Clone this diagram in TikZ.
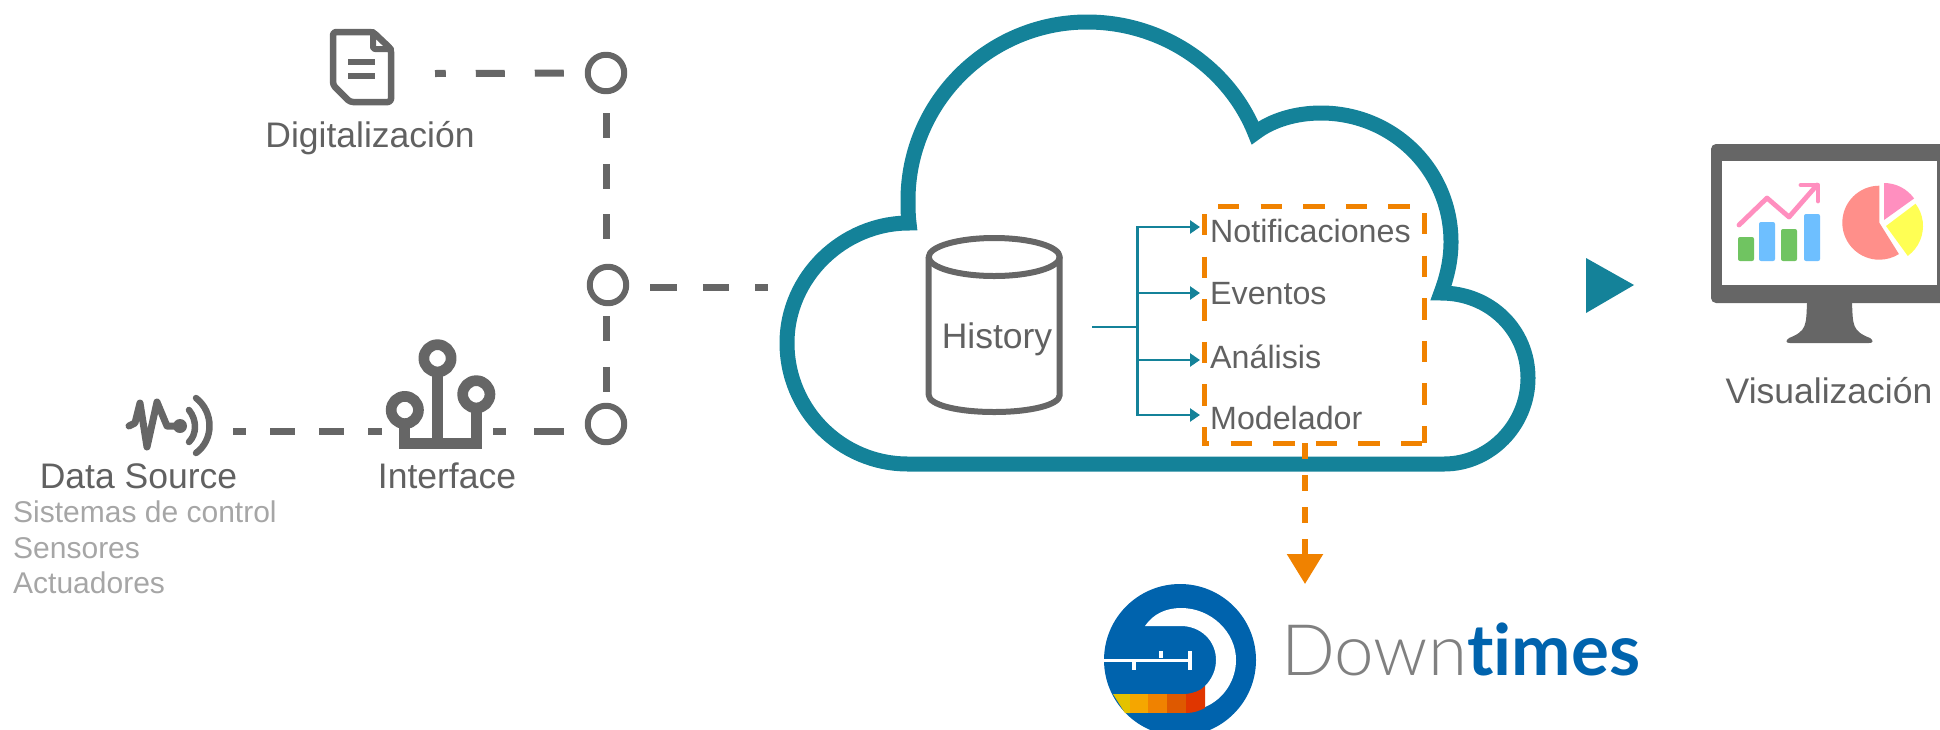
\documentclass[tikz,border=0pt]{standalone}
\usepackage{amsmath}
\usepackage{fontspec}
\setmainfont{Liberation Sans}
\newfontfamily\dtlight{Lato Light}
\newfontfamily\dtbold[Ligatures=NoCommon]{Lato Bold}
\usetikzlibrary{arrows.meta}
\definecolor{wqwqwq}{rgb}{0.4,0.4,0.4}
\definecolor{sqsqsq}{rgb}{0.38,0.38,0.38}
\definecolor{aqaqaq}{rgb}{0.65,0.65,0.65}
\definecolor{qqzzcc}{rgb}{0.08,0.51,0.6}
\definecolor{ffzzqq}{rgb}{0.94,0.51,0}
\definecolor{qqwwaa}{rgb}{0,0.39,0.68}
\definecolor{zzzzzz}{rgb}{0.5,0.5,0.5}
\definecolor{ggcckk}{rgb}{0.44,0.77,0.38}
\definecolor{kkccff}{rgb}{0.43,0.75,1}
\definecolor{ffkkcc}{rgb}{1,0.56,0.75}
\definecolor{ffkkkk}{rgb}{1,0.56,0.54}
\definecolor{ffffkk}{rgb}{1,1,0.33}
\definecolor{eeccqq}{rgb}{0.89,0.76,0}
\definecolor{ffaaqq}{rgb}{0.96,0.65,0}
\definecolor{ddggqq}{rgb}{0.87,0.35,0}
\definecolor{eeddqq}{rgb}{0.88,0.21,0}
\tikzset{
  lbl/.style={anchor=base,text=sqsqsq,inner sep=0pt,font=\fontsize{35.5}{35.5}\selectfont},
  sublbl/.style={anchor=base west,text=aqaqaq,inner sep=0pt,font=\fontsize{30}{30}\selectfont},
  modlbl/.style={anchor=base west,text=sqsqsq,inner sep=0pt,font=\fontsize{32.2}{32.2}\selectfont},
  junct/.style={circle,draw=wqwqwq,line width=6pt,minimum size=36.5pt,inner sep=0pt,outer sep=3pt},
  bus/.style={draw=wqwqwq,line width=7pt,line cap=butt},
  icon/.style={draw=wqwqwq,line width=6pt},
  chip/.style={draw=wqwqwq,line width=10.7pt,line cap=butt,line join=miter},
  ring/.style={draw=wqwqwq,line width=10.7pt,fill=white},
  branch/.style={draw=qqzzcc,line width=2.6pt,line cap=butt,line join=miter,-{Triangle[length=10pt,width=13pt]}},
  boxdash/.style={draw=ffzzqq,line width=5pt,line cap=butt,line join=miter,dash pattern=on 21.3pt off 21.3pt},
}
\begin{document}
\begin{tikzpicture}[line cap=round,line join=round,x=1pt,y=-1pt]
\path[use as bounding box,clip] (0,0) rectangle (1940,729);

\node[junct] (cirTop) at (606,73) {};
\node[junct] (cirMid) at (608,285) {};
\node[junct] (cirBot) at (606,424) {};
\coordinate (docOut) at (435,73.5);
\coordinate (cloudIn) at (768,287);
\coordinate (srcOut) at (233,431);
\coordinate (ifcIn) at (382,431);
\coordinate (ifcOut) at (493,431);
\draw[bus,dash pattern=on 29pt off 30pt,dash phase=38pt] (cirTop.west) -- (docOut);
\draw[bus,dash pattern=on 25pt off 25.5pt,dash phase=31.5pt] (cirTop.south) -- (cirMid.north -| cirTop.south);
\draw[bus,dash pattern=on 25pt off 25.5pt,dash phase=40.5pt] (cirMid.south -| cirBot.north) -- (cirBot.north);
\draw[bus,dash pattern=on 26.5pt off 26pt,dash phase=31.5pt] (cloudIn -| cirMid.east) -- (cloudIn);
\draw[bus,dash pattern=on 25pt off 24pt,dash phase=12pt] (srcOut) -- (ifcIn);
\draw[bus,dash pattern=on 30pt off 28pt,dash phase=17pt] (ifcOut) -- (ifcOut -| cirBot.west);

\draw[icon,line width=6.5pt,rounded corners=3pt] (333,32) -- (373,32) -- (391,49) -- (391,102) -- (350,102) -- (333,85) -- cycle;
\draw[icon,rounded corners=2pt] (373,32) -- (373,49) -- (391,49);
\draw[icon,line cap=butt] (348,62) -- (375,62);
\draw[icon,line cap=butt] (348,76) -- (375,76);
\node[lbl] (lblDigital) at (370,147) {Digitalización};

\draw[icon,line width=7pt] (129,426) -- (135,423) -- (140,403) -- (147,447) -- (157,402) -- (167,426) -- (180,426);
\fill[wqwqwq] (180,426) circle (7pt);
\draw[icon,line width=6.5pt] (189,410) .. controls (197,420) and (197,434) .. (189,442);
\draw[icon,line width=6.5pt] (196,398) .. controls (214,412) and (214,440) .. (196,453);
\node[lbl] (lblSource) at (138.5,488) {Data Source};
\node[sublbl] (lblCtrl) at (13,522) {Sistemas de control};
\node[sublbl] (lblSens) at (13,558) {Sensores};
\node[sublbl] (lblActu) at (13,593) {Actuadores};

\draw[chip] (404.6,410) -- (404.6,443.5) -- (476.3,443.5) -- (476.3,394);
\draw[chip] (437.7,358) -- (437.7,443.5);
\draw[ring] (437.5,358.3) circle (13.65pt);
\draw[ring] (404.8,410) circle (13.65pt);
\draw[ring] (476.3,394.3) circle (13.65pt);
\node[lbl] (lblIface) at (447,488) {Interface};

\draw[qqzzcc,line width=15pt,line join=miter,miter limit=20] (908,464) .. controls (841,464) and (787,410) .. (787,343) .. controls (787,277) and (843,223) .. (909,223) .. controls (908,215) and (908,208) .. (908,200) .. controls (908,102) and (989,22) .. (1087,22) .. controls (1165,22) and (1230,70) .. (1255,133) .. controls (1272,120) and (1296,113) .. (1321,113) .. controls (1393,113) and (1451,170) .. (1451,242) .. controls (1451,260) and (1447,277) .. (1441,293) .. controls (1490,293) and (1528,330) .. (1528,378) .. controls (1528,425) and (1490,464) .. (1444,464) -- cycle;

\draw[icon] (994.2,257) ellipse (65.5pt and 19pt);
\draw[icon,line cap=butt] (928.7,257) -- (928.7,395) .. controls (928.7,405) and (958,412) .. (994.2,412) .. controls (1030,412) and (1059.7,405) .. (1059.7,395) -- (1059.7,257);
\node[lbl] (lblHistory) at (997,348) {History};

\coordinate (histOut) at (1092,327);
\coordinate (hub) at (1137.5,327);
\coordinate (tipNot) at (1200,227);
\coordinate (tipEve) at (1200,293);
\coordinate (tipAna) at (1200,360);
\coordinate (tipMod) at (1200,415);
\draw[draw=qqzzcc,line width=2.6pt,line cap=butt] (histOut) -- (hub);
\draw[branch] (hub) |- (tipNot);
\draw[branch] (hub) |- (tipEve);
\draw[branch] (hub) |- (tipAna);
\draw[branch] (hub) |- (tipMod);
\node[modlbl] (lblNot) at (1210,242) {Notificaciones};
\node[modlbl] (lblEve) at (1210,304.5) {Eventos};
\node[modlbl] (lblAna) at (1210,368) {Análisis};
\node[modlbl] (lblMod) at (1210,429.5) {Modelador};

\node[minimum width=220pt,minimum height=237pt,inner sep=0pt,outer sep=0pt] (modBox) at (1314,324.5) {};
\draw[boxdash,dash phase=28.6pt] (modBox.north west) -- (modBox.north east) -- (modBox.south east);
\draw[boxdash,dash phase=34.6pt] (modBox.north west) -- (modBox.south west) -- (modBox.south east);

\coordinate (dtHead) at (1305,584);
\draw[draw=ffzzqq,line width=5.7pt,line cap=butt,dash pattern=on 16pt off 16pt,-{Triangle[length=30pt,width=35pt]}] (modBox.south -| dtHead) -- (dtHead);

\fill[qqwwaa] (1180,660) circle (76pt);
\fill[white] (1145,626) .. controls (1153,614) and (1166,608) .. (1181,608) .. controls (1211,608) and (1236,632) .. (1236,660) .. controls (1236,680) and (1224,699) .. (1205,707) -- (1205,686) .. controls (1212,679) and (1216,670) .. (1216,660) .. controls (1216,640) and (1200,626) .. (1181,626) -- cycle;
\draw[white,line width=3pt,line cap=butt] (1104,660) -- (1190,660);
\draw[white,line width=4pt,line cap=butt] (1190,651) -- (1190,670);
\draw[white,line width=3.5pt,line cap=butt] (1161,651) -- (1161,658);
\draw[white,line width=3.5pt,line cap=butt] (1134,662) -- (1134,670);
\fill[eeccqq] (1113,694) -- (1130,694) -- (1130,713) -- (1125,713) -- cycle;
\fill[ffaaqq] (1130,694) rectangle (1148,713);
\fill[ffzzqq] (1148,694) rectangle (1167,713);
\fill[ddggqq] (1167,694) rectangle (1186,713);
\fill[eeddqq] (1186,694) .. controls (1194,693) and (1200,691) .. (1205,686) -- (1205,708) .. controls (1199,711) and (1193,713) .. (1186,713) -- cycle;
\node[anchor=base west,inner sep=0pt,font=\fontsize{71}{71}\selectfont] (lblDown) at (1281,675) {\textcolor{zzzzzz}{\dtlight Down}\textcolor{qqwwaa}{\dtbold times}};

\fill[qqzzcc] (1586,258) -- (1586,313) -- (1634,285) -- cycle;

\fill[wqwqwq,rounded corners=5pt] (1711,144) rectangle (1960,303);
\fill[white] (1722,161) rectangle (1937,285);
\fill[wqwqwq] (1807,303) .. controls (1806,325) and (1807,331) .. (1789,338) .. controls (1785,341) and (1786,343) .. (1790,343) -- (1869,343) .. controls (1873,343) and (1874,341) .. (1870,338) .. controls (1852,331) and (1853,325) .. (1852,303) -- cycle;
\fill[ggcckk,rounded corners=2pt] (1738,237) rectangle (1754,261);
\fill[kkccff,rounded corners=2pt] (1759,222) rectangle (1775,261);
\fill[ggcckk,rounded corners=2pt] (1781,229) rectangle (1797,261);
\fill[kkccff,rounded corners=2pt] (1804,214) rectangle (1820,261);
\draw[ffkkcc,line width=4.8pt] (1739,225) -- (1767,198) -- (1789,217) -- (1817,185);
\draw[ffkkcc,line width=4.8pt] (1801,185) -- (1818,185) -- (1818,201);
\fill[ffkkkk] (1879.3,222.7) -- ++(90:37pt) arc (90:302:37pt) -- cycle;
\fill[ffkkcc] (1884,220) -- ++(90:37pt) arc (90:35.6:37pt) -- cycle;
\fill[ffffkk] (1886,226) -- ++(37:37pt) arc (37:-54:37pt) -- cycle;
\node[lbl] (lblVisual) at (1829,403) {Visualización};
\end{tikzpicture}
\end{document}
